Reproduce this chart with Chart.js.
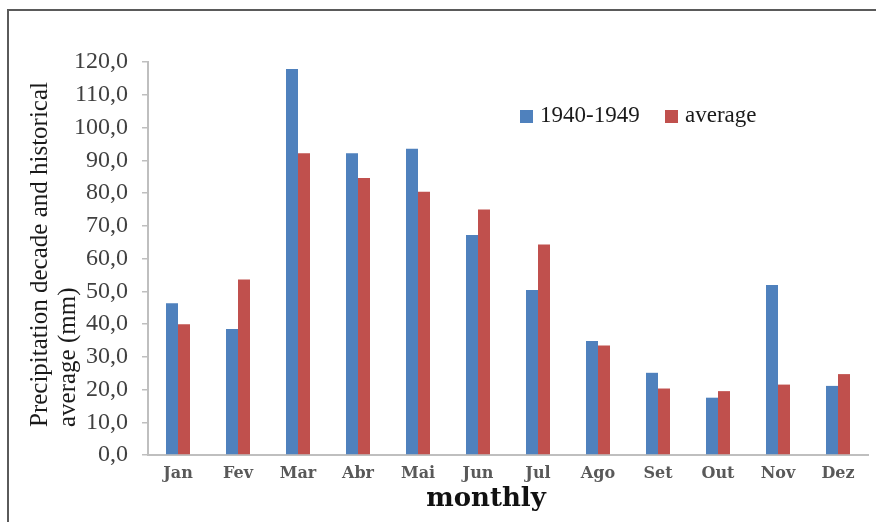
<!DOCTYPE html>
<html>
<head>
<meta charset="utf-8">
<script src="https://cdn.jsdelivr.net/npm/chart.js@4.4.1/dist/chart.umd.min.js"></script>
<style>
  html, body { margin: 0; padding: 0; background: #ffffff; }
  #wrap { width: 876px; height: 522px; }
</style>
</head>
<body>
<div id="wrap"><canvas id="chart" width="876" height="522"></canvas></div>
<script>
// Monthly precipitation (mm): the 1940-1949 decade against the historical average
const months = ['Jan', 'Fev', 'Mar', 'Abr', 'Mai', 'Jun', 'Jul', 'Ago', 'Set', 'Out', 'Nov', 'Dez'];
const decade1940 = [46.3, 38.5, 117.9, 92.1, 93.5, 67.2, 50.4, 34.8, 25.1, 17.5, 51.9, 21.1];
const historicalAvg = [39.9, 53.6, 92.1, 84.6, 80.4, 75.0, 64.3, 33.4, 20.3, 19.5, 21.5, 24.7];
const seriesNames = ['1940-1949', 'average'];
const yTickLabels = ['0,0', '10,0', '20,0', '30,0', '40,0', '50,0', '60,0', '70,0', '80,0', '90,0', '100,0', '110,0', '120,0'];
const yTitleLines = ['Precipitation decade and historical', 'average (mm)'];
const xTitle = 'monthly';

const BLUE = '#4F81BD';
const RED = '#C0504D';
const SERIF = '"Liberation Serif", "Times New Roman", serif';
const WIDE_SERIF = '"DejaVu Serif", serif';

// Page frame, axis titles and the inline legend
const decorations = {
  id: 'decorations',
  beforeDraw(chart) {
    const ctx = chart.ctx;
    ctx.save();
    ctx.fillStyle = '#ffffff';
    ctx.fillRect(0, 0, chart.width, chart.height);
    ctx.strokeStyle = '#5a5a5a';
    ctx.lineWidth = 2;
    ctx.beginPath();
    ctx.moveTo(8, chart.height);
    ctx.lineTo(8, 10);
    ctx.lineTo(chart.width, 10);
    ctx.stroke();
    ctx.restore();
  },
  afterDraw(chart) {
    const ctx = chart.ctx;
    ctx.save();

    // y-axis title: two rotated lines, both starting near the bottom of the axis
    ctx.fillStyle = '#1a1a1a';
    ctx.font = '25px ' + SERIF;
    ctx.textAlign = 'left';
    ctx.textBaseline = 'middle';
    const titleStart = 427;
    [[40, yTitleLines[0]], [68, yTitleLines[1]]].forEach(([x, text]) => {
      ctx.save();
      ctx.translate(x, titleStart);
      ctx.rotate(-Math.PI / 2);
      ctx.fillText(text, 0, 0);
      ctx.restore();
    });

    // x-axis title, centred a little left of the plot centre
    ctx.fillStyle = '#111111';
    ctx.font = 'bold 26px ' + WIDE_SERIF;
    ctx.textAlign = 'center';
    ctx.textBaseline = 'middle';
    ctx.fillText(xTitle, 486, 499);

    // legend
    ctx.font = '23px ' + SERIF;
    ctx.textAlign = 'left';
    ctx.textBaseline = 'middle';
    const ly = 116;
    let lx = 520;
    chart.data.datasets.forEach((ds) => {
      ctx.fillStyle = ds.backgroundColor;
      ctx.fillRect(lx, ly - 6, 13, 13);
      ctx.fillStyle = '#1a1a1a';
      ctx.fillText(ds.label, lx + 20, ly);
      lx += 145;
    });
    ctx.restore();
  }
};

new Chart(document.getElementById('chart'), {
  type: 'bar',
  data: {
    labels: months,
    datasets: [
      { label: seriesNames[0], data: decade1940, backgroundColor: BLUE, borderWidth: 0 },
      { label: seriesNames[1], data: historicalAvg, backgroundColor: RED, borderWidth: 0 }
    ]
  },
  options: {
    responsive: false,
    devicePixelRatio: 1,
    animation: false,
    layout: { padding: { left: 0, right: 8, top: 62, bottom: 0 } },
    datasets: { bar: { categoryPercentage: 0.4, barPercentage: 1.0 } },
    plugins: {
      legend: { display: false },
      tooltip: { enabled: false }
    },
    scales: {
      x: {
        offset: true,
        grid: { display: false },
        border: { display: true, color: '#BFBFBF', width: 2 },
        ticks: {
          color: '#595959',
          font: { family: WIDE_SERIF, size: 16, weight: 'bold' },
          padding: 1,
          maxRotation: 0
        },
        title: { display: false },
        afterFit(scale) { scale.height = 67; }
      },
      y: {
        min: 0,
        max: 120,
        ticks: {
          stepSize: 10,
          color: '#404040',
          font: { family: SERIF, size: 24 },
          padding: 14,
          callback: (value, index) => yTickLabels[index]
        },
        grid: {
          drawOnChartArea: false,
          drawTicks: true,
          tickLength: 6,
          color: '#BFBFBF',
          lineWidth: 1.5
        },
        border: { display: true, color: '#BFBFBF', width: 2 },
        afterFit(scale) { scale.width = 148; }
      }
    }
  },
  plugins: [decorations]
});
</script>
</body>
</html>
